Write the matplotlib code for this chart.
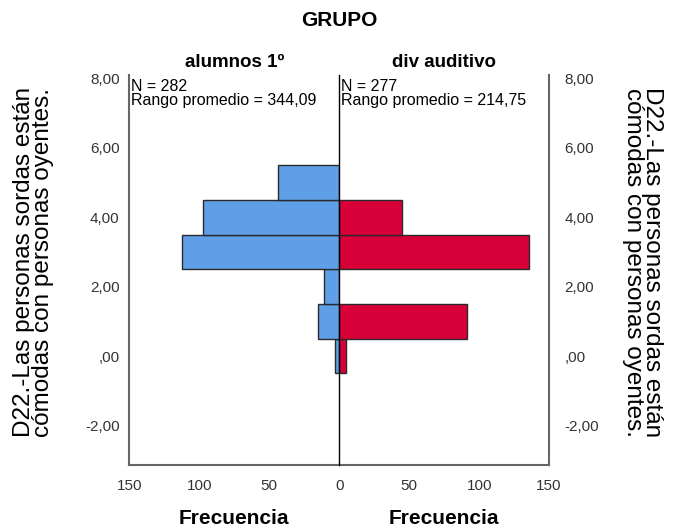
import numpy as np
import matplotlib.pyplot as plt

plt.rcParams['font.family'] = ['Liberation Sans', 'DejaVu Sans']

# respuestas D22 (valores de la escala) y frecuencias por grupo
valores = [0, 1, 2, 3, 4, 5]
frec_alumnos = [3, 15, 11, 112, 97, 44]
frec_auditivo = [5, 91, 0, 136, 45, 0]
grupos = ['alumnos 1º', 'div auditivo']
n_grupos = [282, 277]
rango_promedio = ['344,09', '214,75']
yticks = [-2, 0, 2, 4, 6, 8]

azul = '#5f9fe8'
rojo = '#d9003a'
gris = '#666666'
ylabel = 'D22.-Las personas sordas están\ncómodas con personas oyentes.'

fig = plt.figure(figsize=(6.73, 5.29), dpi=100)
ax1 = fig.add_axes([0.1921, 0.121, 0.3121, 0.737])
ax2 = fig.add_axes([0.5042, 0.121, 0.3116, 0.737])

ylim = (-3.14, 8.1)
fmt = lambda v: ',00' if v == 0 else f'{v},00'

ax1.barh(valores, frec_alumnos, height=1.0, color=azul, edgecolor='#2a2a2a', linewidth=1.0)
ax2.barh([v for v, f in zip(valores, frec_auditivo) if f > 0],
         [f for f in frec_auditivo if f > 0],
         height=1.0, color=rojo, edgecolor='#2a2a2a', linewidth=1.0)

ax1.set_xlim(150, 0)
ax2.set_xlim(0, 150)
ax1.set_xticks([150, 100, 50, 0])
ax2.set_xticks([50, 100, 150])

for ax in (ax1, ax2):
    ax.patch.set_visible(False)
    ax.set_ylim(*ylim)
    ax.set_yticks(yticks)
    ax.set_yticklabels([fmt(v) for v in yticks])
    ax.spines['top'].set_visible(False)
    ax.tick_params(length=0, labelsize=11, labelcolor='#333333', pad=7)
    ax.tick_params(axis='x', pad=10)
    ax.spines['bottom'].set_color(gris)
    ax.spines['bottom'].set_linewidth(1.5)
    ax.set_xlabel('Frecuencia', fontsize=15, fontweight='bold')
    ax.xaxis.set_label_coords(0.5, -0.112)

# línea central en cero
ax1.spines['right'].set_visible(False)
ax2.spines['left'].set_color('black')
ax2.spines['left'].set_linewidth(1.0)
ax2.spines['left'].set_zorder(5)

ax1.spines['left'].set_color(gris)
ax1.spines['left'].set_linewidth(1.5)
ax2.spines['right'].set_color(gris)
ax2.spines['right'].set_linewidth(1.5)
ax2.yaxis.tick_right()
ax2.tick_params(axis='y', pad=11)

ax1.set_ylabel(ylabel, fontsize=17.5, linespacing=0.8, va='center')
ax1.yaxis.set_label_coords(-0.455, 0.52)
ax2.yaxis.set_label_position('right')
ax2.set_ylabel(ylabel, fontsize=17.5, rotation=270, linespacing=0.8, va='center')
ax2.yaxis.set_label_coords(1.445, 0.52)

for ax, g, n, r in zip((ax1, ax2), grupos, n_grupos, rango_promedio):
    ax.set_title(g, fontsize=13.5, fontweight='bold', pad=6)
    ax.text(0.01, 0.99, f'N = {n}\nRango promedio = {r}',
            transform=ax.transAxes, ha='left', va='top', fontsize=11.5,
            linespacing=0.9)

fig.text(0.5042, 0.962, 'GRUPO', ha='center', va='center', fontsize=15, fontweight='bold')

fig.savefig('out.png', dpi=100)
